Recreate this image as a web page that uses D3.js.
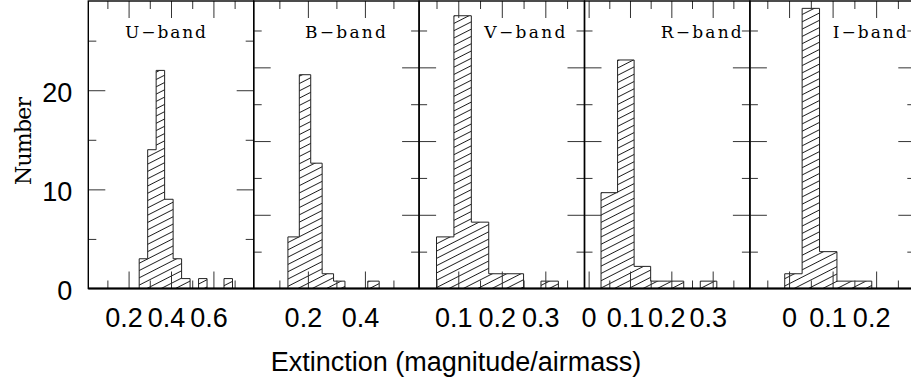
<!DOCTYPE html>
<html>
<head>
<meta charset="utf-8">
<script src="https://cdn.jsdelivr.net/npm/d3@7"></script>
<style>
  body { margin: 0; background: #fff; }
</style>
</head>
<body>
<svg id="chart" width="911" height="385"></svg>
<script>
// extinction histograms, one panel per band
const bands = ["U", "B", "V", "R", "I"];
const binWidth = 0.04;
const binStart = [0.25, 0.13, 0.05, 0.03, -0.01];
const countsU = [3, 14, 22, 9, 3, 1, 0, 1, 0, 0, 1];
const countsB = [7, 29, 17, 2, 1, 0, 0, 1];
const countsV = [7, 37, 9, 2, 2, 0, 1];
const countsR = [13, 31, 3, 1, 1, 0, 1];
const countsI = [2, 38, 5, 1, 1];
const counts = [countsU, countsB, countsV, countsR, countsI];

const xDomains = [[0.01, 0.79], [0.01, 0.59], [0.01, 0.39], [-0.01, 0.39], [-0.09, 0.29]];
const yMax = [29, 39, 39, 39, 39];
const xMajor = [[0.2, 0.4, 0.6], [0.2, 0.4], [0.1, 0.2, 0.3], [0, 0.1, 0.2, 0.3], [0, 0.1, 0.2]];
const xMinor = [[0.1, 0.3, 0.5, 0.7], [0.1, 0.3, 0.5], [0.05, 0.15, 0.25, 0.35],
                [0.05, 0.15, 0.25, 0.35], [-0.05, 0.05, 0.15, 0.25]];
const yMajor = [10, 20, 30];
const yMinor = [5, 15, 25, 35];
const yLabels = [0, 10, 20];

// layout
const padLeft = 88.3, padTop = 1;
const pw = 165.4, ph = 287.5;
const majLen = 17, minLen = 8;
const labelDx = [36.7, 51.3, 65.2, 76.2, 82.8];
const labelLen = [81, 81, 81, 81, 74];
const sans = "'Liberation Sans', Arial, Helvetica, sans-serif";
const serif = "'DejaVu Serif', 'Liberation Serif', serif";

const svg = d3.select("#chart");

svg.append("defs")
  .append("pattern")
  .attr("id", "hatch")
  .attr("patternUnits", "userSpaceOnUse")
  .attr("width", 10)
  .attr("height", 6.5)
  .attr("patternTransform", "rotate(-27)")
  .append("line")
  .attr("x1", -1).attr("x2", 11)
  .attr("y1", 3.25).attr("y2", 3.25)
  .attr("stroke", "#111")
  .attr("stroke-width", 0.9);

function tickAxis(axisFn, scale, vals, size) {
  return axisFn(scale).tickValues(vals).tickSize(-size).tickSizeOuter(0).tickFormat("");
}

function styleTicks(sel) {
  sel.select(".domain").remove();
  sel.selectAll(".tick line").attr("stroke", "#333").attr("stroke-width", 1);
}

bands.forEach(function (band, i) {
  var g = svg.append("g")
    .attr("transform", "translate(" + (padLeft + i * pw) + "," + padTop + ")");

  var x = d3.scaleLinear().domain(xDomains[i]).range([0, pw]);
  var y = d3.scaleLinear().domain([0, yMax[i]]).range([ph, 0]);

  // step outline of the histogram
  var pts = [[binStart[i], 0]];
  counts[i].forEach(function (c, k) {
    var lo = binStart[i] + k * binWidth;
    pts.push([lo, c]);
    pts.push([lo + binWidth, c]);
  });
  pts.push([binStart[i] + counts[i].length * binWidth, 0]);

  var line = d3.line()
    .x(function (d) { return x(d[0]); })
    .y(function (d) { return y(d[1]); });

  g.append("path")
    .datum(pts)
    .attr("d", line)
    .attr("fill", "url(#hatch)")
    .attr("stroke", "#222")
    .attr("stroke-width", 1);

  // ticks on all four sides, pointing inward
  var ym = yMajor.filter(function (v) { return v < yMax[i]; });
  var yn = yMinor.filter(function (v) { return v < yMax[i]; });

  g.append("g").attr("transform", "translate(0," + ph + ")")
    .call(tickAxis(d3.axisBottom, x, xMajor[i], majLen)).call(styleTicks);
  g.append("g").attr("transform", "translate(0," + ph + ")")
    .call(tickAxis(d3.axisBottom, x, xMinor[i], minLen)).call(styleTicks);
  g.append("g")
    .call(tickAxis(d3.axisTop, x, xMajor[i], majLen)).call(styleTicks);
  g.append("g")
    .call(tickAxis(d3.axisTop, x, xMinor[i], minLen)).call(styleTicks);
  g.append("g")
    .call(tickAxis(d3.axisLeft, y, ym, majLen)).call(styleTicks);
  g.append("g")
    .call(tickAxis(d3.axisLeft, y, yn, minLen)).call(styleTicks);
  g.append("g").attr("transform", "translate(" + pw + ",0)")
    .call(tickAxis(d3.axisRight, y, ym, majLen)).call(styleTicks);
  g.append("g").attr("transform", "translate(" + pw + ",0)")
    .call(tickAxis(d3.axisRight, y, yn, minLen)).call(styleTicks);

  // x tick labels
  g.append("g")
    .attr("transform", "translate(0," + ph + ")")
    .call(d3.axisBottom(x).tickValues(xMajor[i]).tickSize(0).tickFormat(d3.format("")))
    .call(function (a) {
      a.select(".domain").remove();
      a.selectAll("text")
        .attr("y", 38.5)
        .attr("dy", null)
        .attr("dx", function (d) { return d === 0 ? 0 : -5; })
        .attr("fill", "#000")
        .style("font-family", sans)
        .style("font-size", "27px");
    });

  // y tick labels only on the first panel
  if (i === 0) {
    g.append("g")
      .call(d3.axisLeft(y).tickValues(yLabels).tickSize(0).tickPadding(16).tickFormat(d3.format("d")))
      .call(function (a) {
        a.select(".domain").remove();
        a.selectAll("text")
          .attr("dy", "0.42em")
          .attr("fill", "#000")
          .style("font-family", sans)
          .style("font-size", "27px");
      });
  }

  // frame
  g.append("rect")
    .attr("width", pw)
    .attr("height", ph)
    .attr("fill", "none")
    .attr("stroke", "#000")
    .attr("stroke-width", 1.4);
  g.append("line")
    .attr("x1", 0).attr("x2", pw)
    .attr("y1", ph).attr("y2", ph)
    .attr("stroke", "#000")
    .attr("stroke-width", 2.2);

  g.append("text")
    .attr("x", labelDx[i])
    .attr("y", 37)
    .attr("textLength", labelLen[i])
    .attr("lengthAdjust", "spacing")
    .style("font-family", serif)
    .style("font-size", "17px")
    .text(band + "\u2212band");
});

svg.append("text")
  .attr("transform", "translate(31,141) rotate(-90)")
  .attr("text-anchor", "middle")
  .attr("textLength", 88)
  .attr("lengthAdjust", "spacing")
  .style("font-family", serif)
  .style("font-size", "22px")
  .text("Number");

svg.append("text")
  .attr("x", 456)
  .attr("y", 371)
  .attr("text-anchor", "middle")
  .style("font-family", sans)
  .style("font-size", "27px")
  .text("Extinction (magnitude/airmass)");
</script>
</body>
</html>
